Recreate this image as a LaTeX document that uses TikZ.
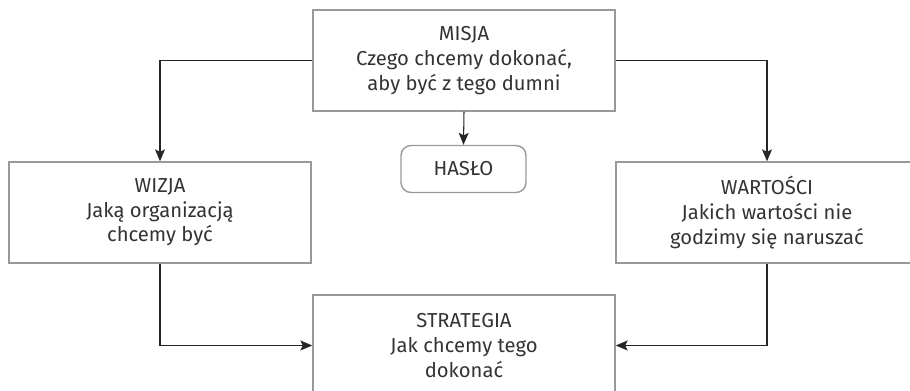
\documentclass[tikz,border=0pt]{standalone}
\usepackage{fontspec}
\setmainfont{Fira Sans}
\usetikzlibrary{arrows.meta}
\definecolor{ramka}{gray}{0.6}
\definecolor{tekst}{gray}{0.2}
\tikzset{
  pole/.style={rectangle,minimum width=6.04cm,minimum height=2.02cm,draw=ramka,line width=0.8pt,align=center,text=tekst,font=\fontsize{11.5}{14}\selectfont},
  haslo/.style={rectangle,minimum width=2.5cm,minimum height=0.94cm,rounded corners=2mm,draw=ramka,line width=0.8pt,text=tekst,font=\fontsize{11.5}{14}\selectfont},
  strzalka/.style={-{Stealth[length=2.4mm,width=2mm,inset=0.5mm]},line width=0.6pt,black!85}
}
\begin{document}
\begin{tikzpicture}
\useasboundingbox (0,0) rectangle (18.2,-7.82);
\clip (0,0) rectangle (18.2,-7.82);
\draw (9.28,-1.21)node[pole](misja){MISJA\\Czego chcemy dokonać,\\aby być z tego dumni};
\draw (9.27,-3.38)node[haslo](haslo){HASŁO};
\draw (3.2,-4.25)node[pole](wizja){WIZJA\\Jaką organizacją\\chcemy być};
\draw (15.34,-4.25)node[pole](wartosci){WARTOŚCI\\Jakich wartości nie\\godzimy się naruszać};
\draw (9.28,-6.91)node[pole](strategia){STRATEGIA\\Jak chcemy tego\\dokonać};

\draw[strzalka](misja.south)--(haslo.north);
\draw[strzalka](misja.west)-|(wizja.north);
\draw[strzalka](misja.east)-|(wartosci.north);
\draw[strzalka](wizja.south)|-(strategia.west);
\draw[strzalka](wartosci.south)|-(strategia.east);
\end{tikzpicture}
\end{document}
